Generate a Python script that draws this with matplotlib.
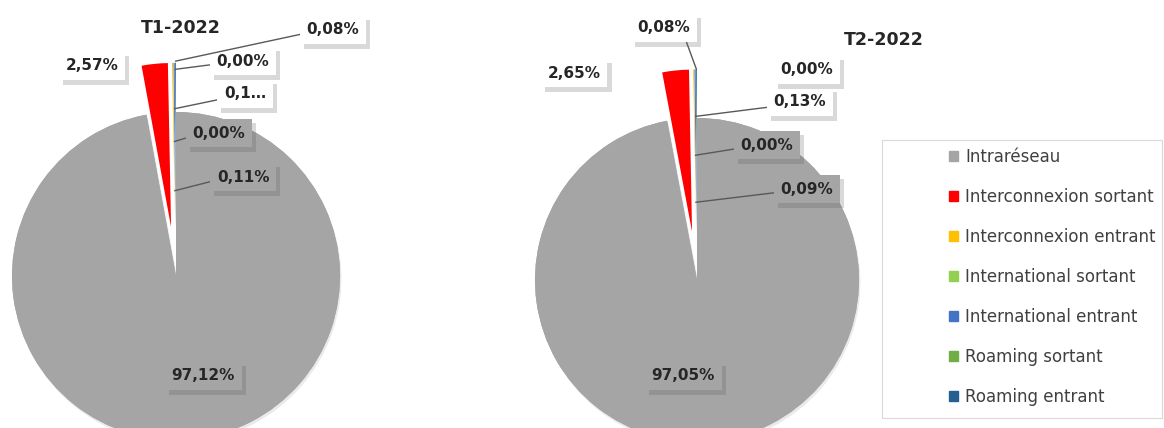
import matplotlib.pyplot as plt
import matplotlib.patheffects as pe
from matplotlib.patches import Patch, Rectangle
import numpy as np

# données
categories = ['Intraréseau', 'Interconnexion sortant', 'Interconnexion entrant',
              'International sortant', 'International entrant',
              'Roaming sortant', 'Roaming entrant']
colors = ['#A5A5A5', '#FF0000', '#FFC000', '#92D050', '#4472C4', '#70AD47', '#255E91']
t1_values = [97.12, 2.57, 0.11, 0.00, 0.12, 0.00, 0.08]
t2_values = [97.05, 2.65, 0.09, 0.00, 0.13, 0.00, 0.08]
t1_labels = ['97,12%', '2,57%', '0,11%', '0,00%', '0,1…', '0,00%', '0,08%']
t2_labels = ['97,05%', '2,65%', '0,09%', '0,00%', '0,13%', '0,00%', '0,08%']

W, H = 1164, 428
fig = plt.figure(figsize=(W / 100, H / 100), dpi=100)

#%% mise en page (pixels, depuis le haut)
pies = [
    dict(vals=t1_values, labs=t1_labels, title='T1-2022', title_xy=(181, 28),
         cx=176, cy=276, R=164, box=(0, 370),
         lab_xy=[(203, 376), (92, 66), (243, 177), (219, 133), (245, 94), (243, 61), (333, 30)],
         lead_r=[None, None, 0.52, 0.82, 1.02, 1.26, 1.31],
         relpos=[None, None, (0, 0.3), (0, 0.3), (0, 0.2), (0, 0.3), (0, 0.3)]),
    dict(vals=t2_values, labs=t2_labels, title='T2-2022', title_xy=(884, 40),
         cx=697, cy=280, R=162, box=(520, 880),
         lab_xy=[(683, 376), (574, 73), (807, 189), (767, 145), (800, 102), (807, 70), (664, 28)],
         lead_r=[None, None, 0.48, 0.77, 1.01, None, 1.30],
         relpos=[None, None, (0, 0.3), (0, 0.3), (0, 0.2), None, (0.88, 0)]),
]

explode = [0, 0.3, 0.3, 0.3, 0.3, 0.3, 0.3]

for p in pies:
    x0, x1 = p['box']
    ax = fig.add_axes([x0 / W, 0, (x1 - x0) / W, 1])
    wedges, _ = ax.pie(p['vals'], colors=colors, startangle=90, counterclock=False,
                       explode=explode, wedgeprops=dict(linewidth=0))
    wedges[0].set_path_effects([pe.withSimplePatchShadow(offset=(1, -2), alpha=0.1), pe.Normal()])
    ax.set_aspect('auto')
    R = p['R']
    ax.set_xlim((x0 - p['cx']) / R, (x1 - p['cx']) / R)
    ax.set_ylim(-(H - p['cy']) / R, p['cy'] / R)
    ax.axis('off')

    for i, (w, lab) in enumerate(zip(wedges, p['labs'])):
        px, py = p['lab_xy'][i]
        dx, dy = (px - p['cx']) / R, (p['cy'] - py) / R
        face = '#A5A5A5' if np.hypot(dx, dy) < 1 else 'white'
        kw = {}
        r = p['lead_r'][i]
        th = np.deg2rad((w.theta1 + w.theta2) / 2)
        xy = (r * np.cos(th), r * np.sin(th)) if r else (0, 0)
        if r:
            kw['arrowprops'] = dict(arrowstyle='-', color='#595959', lw=1, shrinkA=0, shrinkB=0,
                                    relpos=p['relpos'][i])
        t = ax.annotate(lab, xy=xy, xytext=(px, H - py), textcoords='figure pixels',
                        ha='center', va='center', fontsize=11, fontweight='bold', color='#262626',
                        bbox=dict(boxstyle='square,pad=0.45', fc=face, ec='none'), **kw)
        t.get_bbox_patch().set_path_effects(
            [pe.withSimplePatchShadow(offset=(3, -3), shadow_rgbFace='#555555', alpha=0.22), pe.Normal()])

    tx, ty = p['title_xy']
    fig.text(tx / W, 1 - ty / H, p['title'], ha='center', va='center',
             fontsize=12.5, fontweight='bold', color='#262626')

#%% légende
fig.patches.append(Rectangle((882 / W, 10 / H), 280 / W, 278 / H, transform=fig.transFigure,
                             fc='white', ec='#D9D9D9', lw=0.8, zorder=0))
handles = [Patch(color=c) for c in colors]
fig.legend(handles, categories, loc='upper left', bbox_to_anchor=(949 / W, 1 - 148 / H),
           frameon=False, fontsize=12, labelcolor='#404040', borderpad=0, borderaxespad=0,
           handlelength=0.54, handleheight=0.54, handletextpad=0.42, labelspacing=1.32)

plt.savefig('out.png', dpi=100)
